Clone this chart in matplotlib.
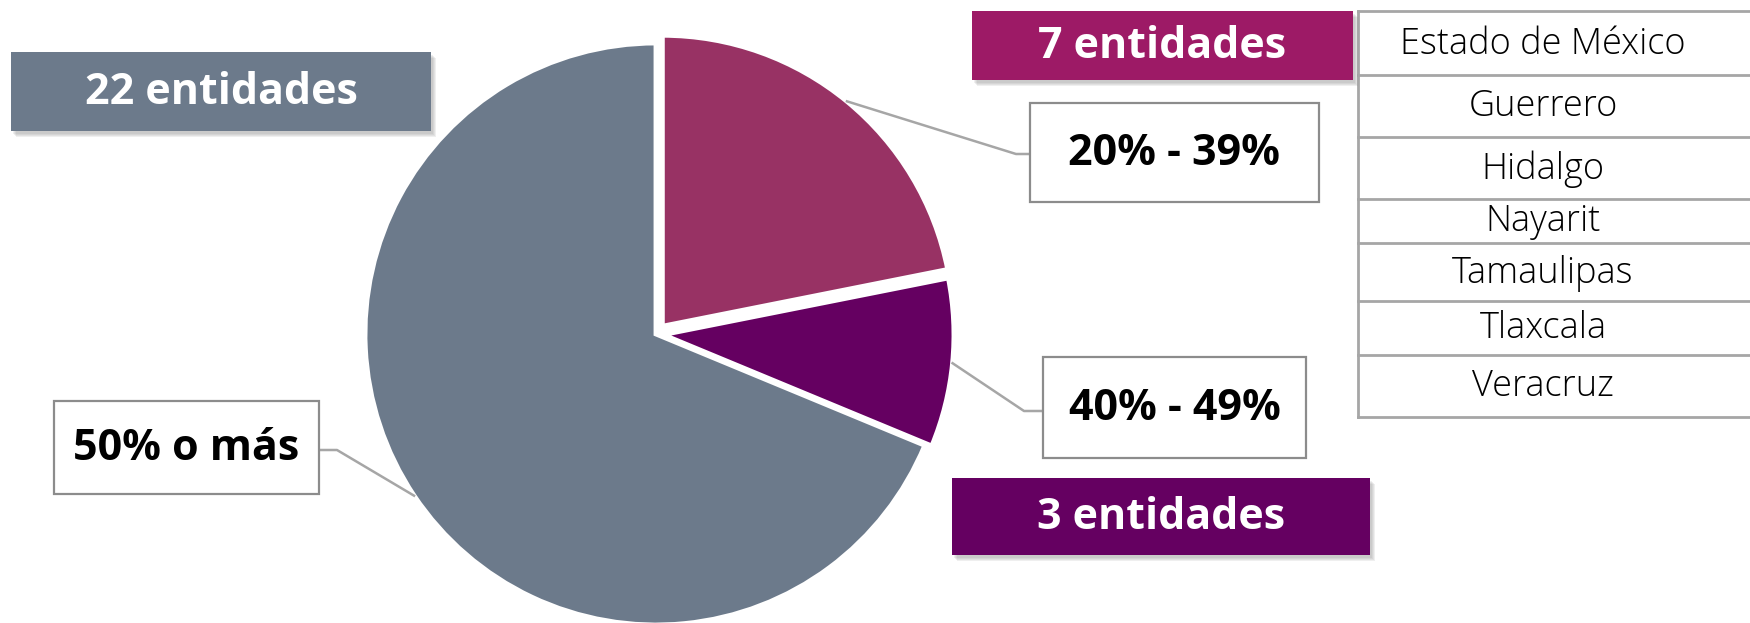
import numpy as np
import matplotlib.pyplot as plt
from matplotlib.patches import Rectangle

# ----------------------------
# Data
# ----------------------------
ranges = ['20% - 39%', '40% - 49%', '50% o más']
entidades = [7, 3, 22]
group_labels = ['7 entidades', '3 entidades', '22 entidades']
estados_20_39 = ['Estado de México', 'Guerrero', 'Hidalgo', 'Nayarit',
                 'Tamaulipas', 'Tlaxcala', 'Veracruz']

wedge_colors = ['#983264', '#650061', '#6C7A8B']
box_colors = ['#9D1A66', '#650061', '#6C7A8B']

W, H = 1750, 623
fig = plt.figure(figsize=(W / 100, H / 100), dpi=100)
ax = fig.add_axes([0, 0, 1, 1])


def Y(y):
    # layout written in image pixels (top-down)
    return H - y


# ----------------------------
# Pie (explode is in data units = pixels here)
# ----------------------------
cx, cy, r = 656, Y(334), 291
wedges, _ = ax.pie(entidades, startangle=90, counterclock=False,
                   colors=wedge_colors, radius=r, center=(cx, cy),
                   explode=[10, 7, 0],
                   wedgeprops=dict(edgecolor='white', linewidth=3.5),
                   frame=True)
ax.set_xlim(0, W)
ax.set_ylim(0, H)
ax.axis('off')

FONT = 'Open Sans'


def label_box(x0, y0, x1, y1, text, size=31):
    ax.add_patch(Rectangle((x0, Y(y1)), x1 - x0, y1 - y0, facecolor='white',
                           edgecolor='#8C8C8C', linewidth=1.6, zorder=4))
    ax.text((x0 + x1) / 2, Y((y0 + y1) / 2 + 1), text, ha='center',
            va='center', fontsize=size, fontweight='bold', color='black',
            family=FONT, zorder=5)


def color_box(x0, y0, x1, y1, text, color, size=31):
    for k in range(4):
        ax.add_patch(Rectangle((x0 + 2 + k, Y(y1 + 3 + k)), x1 - x0, y1 - y0,
                               facecolor='#7F7F7F', edgecolor='none',
                               alpha=0.12, zorder=3))
    ax.add_patch(Rectangle((x0, Y(y1)), x1 - x0, y1 - y0, facecolor=color,
                           edgecolor='none', zorder=4))
    ax.text((x0 + x1) / 2, Y((y0 + y1) / 2 + 1), text, ha='center',
            va='center', fontsize=size, fontweight='bold', color='white',
            family=FONT, zorder=5)


def leader(wedge, elbow, end):
    ang = np.deg2rad((wedge.theta1 + wedge.theta2) / 2)
    wx, wy = wedge.center
    px, py = wx + wedge.r * np.cos(ang), wy + wedge.r * np.sin(ang)
    ax.plot([px, elbow[0], end[0]], [py, Y(elbow[1]), Y(end[1])],
            color='#A6A6A6', linewidth=1.8, zorder=2)


# range labels with leader lines
label_box(1030, 103, 1319, 202, ranges[0])
leader(wedges[0], (1016, 154), (1030, 154))
label_box(1043, 357, 1306, 458, ranges[1])
leader(wedges[1], (1024, 411), (1043, 411))
label_box(54, 401, 319, 494, ranges[2])
leader(wedges[2], (337, 450), (319, 450))

# group boxes
color_box(972, 11, 1353, 80, group_labels[0], box_colors[0])
color_box(952, 478, 1370, 555, group_labels[1], box_colors[1])
color_box(11, 52, 431, 131, group_labels[2], box_colors[2])

# ----------------------------
# Table of states
# ----------------------------
row_edges = [11, 75, 137, 199, 243, 301, 355, 417]
tx0, tx1 = 1358, 1760
tc = '#A6A6A6'
ax.plot([tx0, tx0], [Y(row_edges[0]), Y(row_edges[-1])], color=tc, lw=2)
for ye in row_edges:
    ax.plot([tx0, tx1], [Y(ye), Y(ye)], color=tc, lw=2)
for i, name in enumerate(estados_20_39):
    ymid = (row_edges[i] + row_edges[i + 1]) / 2
    ax.text(1543, Y(ymid + 1), name, ha='center', va='center', fontsize=26,
            color='black', family=FONT, fontweight='light')

plt.savefig('out.png', dpi=100)
